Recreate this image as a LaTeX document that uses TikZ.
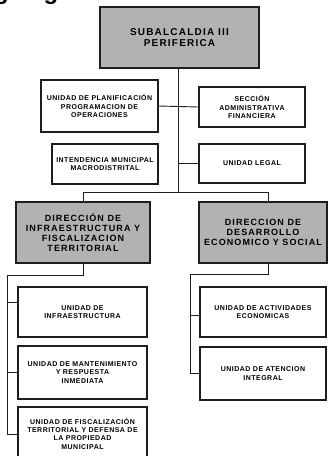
\documentclass[tikz,border=0pt]{standalone}
\usepackage{fontspec}
\setmainfont{Liberation Sans}
\newfontfamily\boxfont[LetterSpace=7]{Liberation Sans}
\newfontfamily\dirfont[LetterSpace=12]{Liberation Sans}
\newfontfamily\titfont{Liberation Sans}
\definecolor{ink}{RGB}{30,30,30}
\definecolor{shade}{RGB}{178,178,178}
\begin{document}
\begin{tikzpicture}[x=1pt,y=-1pt,
  box/.style={draw=ink, line width=1.3pt, fill=white, align=center, inner sep=0pt,
    font=\boxfont\bfseries\fontsize{7}{8.3}\selectfont},
  gbox/.style={box, fill=shade, font=\dirfont\bfseries\fontsize{9}{9.8}\selectfont},
  conn/.style={draw=ink, line width=0.9pt},
  ]
\path[use as bounding box] (0,0) rectangle (329,456);
\clip (0,0) rectangle (329,456);
% cut-off title (only its lowest part shows)
\node[anchor=base west, inner sep=0pt, font=\titfont\bfseries\fontsize{24}{24}\selectfont] (title) at (-34,-0.5) {Organigrama};
% boxes
\node[gbox, minimum width=159pt, minimum height=61pt, font=\dirfont\bfseries\fontsize{10}{11.5}\selectfont] (top) at (179.5,37.5) {SUBALCALDIA III\\PERIFERICA};
\node[box, minimum width=117pt, minimum height=52pt] (plan) at (99.5,106) {UNIDAD DE PLANIFICACIÓN\\PROGRAMACION DE\\OPERACIONES};
\node[box, minimum width=106pt, minimum height=40pt] (secc) at (252,107) {SECCIÓN\\ADMINISTRATIVA\\FINANCIERA};
\node[box, minimum width=106pt, minimum height=40pt] (inten) at (105,164) {INTENDENCIA MUNICIPAL\\MACRODISTRITAL};
\node[box, minimum width=106pt, minimum height=39pt] (legal) at (252,163.5) {UNIDAD LEGAL};
\node[gbox, minimum width=134pt, minimum height=61pt] (dirL) at (83,232.5) {DIRECCIÓN DE\\INFRAESTRUCTURA Y\\FISCALIZACION\\TERRITORIAL};
\node[gbox, minimum width=128pt, minimum height=61pt] (dirR) at (263,232.5) {DIRECCION DE\\DESARROLLO\\ECONOMICO Y SOCIAL};
\node[box, minimum width=129pt, minimum height=50pt] (infra) at (82.5,312) {UNIDAD DE\\INFRAESTRUCTURA};
\node[box, minimum width=129pt, minimum height=53pt] (mant) at (82.5,372.5) {UNIDAD DE MANTENIMIENTO\\Y RESPUESTA\\INMEDIATA};
\node[box, minimum width=129pt, minimum height=53pt] (fisc) at (82.5,433.5) {UNIDAD DE FISCALIZACIÓN\\TERRITORIAL Y DEFENSA DE\\LA PROPIEDAD\\MUNICIPAL};
\node[box, minimum width=126pt, minimum height=50pt] (activ) at (263,312) {UNIDAD DE ACTIVIDADES\\ECONOMICAS};
\node[box, minimum width=126pt, minimum height=53pt] (atenc) at (263,373.5) {UNIDAD DE ATENCION\\INTEGRAL};
% junction coordinates
\coordinate (j1) at (178,192);
\coordinate (jL) at (83,192);
\coordinate (jR) at (268,192);
\coordinate (bL) at (83,275);
\coordinate (cL) at (7,275);
\coordinate (eL) at (7,434);
\coordinate (bR) at (268,274);
\coordinate (cR) at (190,274);
\coordinate (eR) at (190,373);
% connectors
\draw[conn] (top.south -| j1) -- (j1);
\draw[conn] (plan.east) -- (secc.west);
\draw[conn] (legal.west) -- (legal.west -| j1);
\draw[conn] (dirL.north -| jL) -- (jL) -- (jR) -- (dirR.north -| jR);
\draw[conn] (dirL.south -| bL) -- (bL) -- (cL) -- (eL);
\draw[conn] ([yshift=10pt]cL |- infra.west) -- ([yshift=10pt]infra.west);
\draw[conn] (cL |- mant.west) -- (mant.west);
\draw[conn] (eL) -- (eL -| fisc.west);
\draw[conn] (dirR.south -| bR) -- (bR) -- (cR) -- (eR);
\draw[conn] ([yshift=-3pt]cR |- activ.west) -- ([yshift=-3pt]activ.west);
\draw[conn] (eR) -- (eR -| atenc.west);
\end{tikzpicture}
\end{document}
